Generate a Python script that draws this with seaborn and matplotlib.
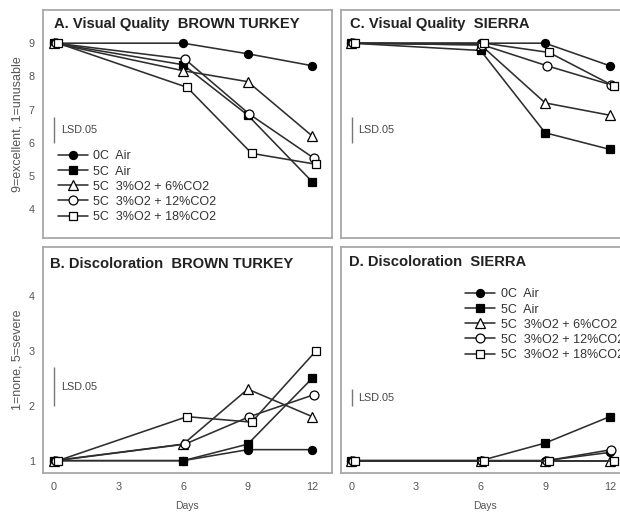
import matplotlib
matplotlib.use("Agg")
import matplotlib.pyplot as plt
import seaborn as sns

# ---------------- data ----------------
days = [0, 6, 9, 12]
treatments = ["0C  Air", "5C  Air", "5C  3%O2 + 6%CO2",
              "5C  3%O2 + 12%CO2", "5C  3%O2 + 18%CO2"]

# A. Visual quality, Brown Turkey
vq_bt_0c_air = [9.0, 9.0, 8.68, 8.32]
vq_bt_5c_air = [9.0, 8.35, 6.83, 4.82]
vq_bt_6co2 = [9.0, 8.17, 7.84, 6.20]
vq_bt_12co2 = [9.0, 8.52, 6.86, 5.53]
vq_bt_18co2 = [9.0, 7.67, 5.68, 5.35]

# C. Visual quality, Sierra
vq_si_0c_air = [9.0, 9.0, 9.0, 8.32]
vq_si_5c_air = [9.0, 8.78, 6.30, 5.80]
vq_si_6co2 = [9.0, 8.95, 7.20, 6.83]
vq_si_12co2 = [9.0, 8.95, 8.32, 7.74]
vq_si_18co2 = [9.0, 9.0, 8.72, 7.71]

# B. Discoloration, Brown Turkey
dc_bt_0c_air = [1.0, 1.0, 1.20, 1.20]
dc_bt_5c_air = [1.0, 1.0, 1.30, 2.50]
dc_bt_6co2 = [1.0, 1.30, 2.30, 1.80]
dc_bt_12co2 = [1.0, 1.30, 1.80, 2.20]
dc_bt_18co2 = [1.0, 1.80, 1.70, 3.00]

# D. Discoloration, Sierra
dc_si_0c_air = [1.0, 1.0, 1.0, 1.15]
dc_si_5c_air = [1.0, 1.0, 1.32, 1.80]
dc_si_6co2 = [1.0, 1.0, 1.0, 1.0]
dc_si_12co2 = [1.0, 1.0, 1.0, 1.20]
dc_si_18co2 = [1.0, 1.0, 1.0, 1.0]

panel_titles = ["A. Visual Quality  BROWN TURKEY", "C. Visual Quality  SIERRA",
                "B. Discoloration  BROWN TURKEY", "D. Discoloration  SIERRA"]
x_ticks = [0, 3, 6, 9, 12]
vq_ticks = [4, 5, 6, 7, 8, 9]
dc_ticks = [1, 2, 3, 4]
vq_lsd = [6.0, 6.78]
dc_bt_lsd = [2.0, 2.71]
dc_si_lsd = [2.0, 2.3]

# ---------------- style ----------------
sns.set_style("white")
plt.rcParams["font.family"] = ["Liberation Sans", "DejaVu Sans"]

marker_styles = [
    dict(marker="o", mfc="black", ms=5.8),
    dict(marker="s", mfc="black", ms=5.9),
    dict(marker="^", mfc="white", ms=6.6),
    dict(marker="o", mfc="white", ms=6.4),
    dict(marker="s", mfc="white", ms=6.3),
]
dodge = [0.0, 0.0, 0.0, 0.08, 0.18]
line_col = "#2e2e2e"
spine_col = "#a8a8a8"
tick_txt = "#555555"

W, H = 620, 513
fig = plt.figure(figsize=(W / 100, H / 100), dpi=100)


def add(l, t, r, b):
    return fig.add_axes([l / W, 1 - b / H, (r - l) / W, (b - t) / H])


axA = add(43.3, 10, 331.7, 238.3)
axC = add(340.7, 10, 629.1, 238.3)
axB = add(43.3, 246.7, 331.7, 473.3)
axD = add(340.7, 246.7, 629.1, 473.3)

panels = [
    (axA, [vq_bt_0c_air, vq_bt_5c_air, vq_bt_6co2, vq_bt_12co2, vq_bt_18co2]),
    (axC, [vq_si_0c_air, vq_si_5c_air, vq_si_6co2, vq_si_12co2, vq_si_18co2]),
    (axB, [dc_bt_0c_air, dc_bt_5c_air, dc_bt_6co2, dc_bt_12co2, dc_bt_18co2]),
    (axD, [dc_si_0c_air, dc_si_5c_air, dc_si_6co2, dc_si_12co2, dc_si_18co2]),
]

for (ax, series), title in zip(panels, panel_titles):
    for name, vals, st, dx in zip(treatments, series, marker_styles, dodge):
        sns.lineplot(x=[d + dx for d in days], y=vals, ax=ax, color=line_col,
                     linewidth=1.15, marker=st["marker"], markersize=st["ms"],
                     markerfacecolor=st["mfc"], markeredgecolor="black",
                     markeredgewidth=0.9, label=name, legend=False,
                     errorbar=None, sort=False)
    ax.set_xlim(-0.5, 12.9)
    ax.set_xticks(x_ticks)
    for s in ax.spines.values():
        s.set_color(spine_col)
        s.set_linewidth(1.3)
    ax.tick_params(direction="in", length=3, width=0.8, color="#777777",
                   labelsize=7.8, labelcolor=tick_txt, pad=6)
    ax.set_xlabel("")
    ax.set_ylabel("")

for ax in (axA, axC):
    ax.set_ylim(3.12, 10.0)
    ax.set_yticks(vq_ticks)
    ax.tick_params(labelbottom=False)
for ax in (axB, axD):
    ax.set_ylim(0.77, 4.89)
    ax.set_yticks(dc_ticks)
    ax.set_xlabel("Days", fontsize=7.5, color="#555555", labelpad=7)
for ax in (axC, axD):
    ax.tick_params(labelleft=False)

axA.set_ylabel("9=excellent, 1=unusable", fontsize=9, color="#555555", labelpad=4)
axB.set_ylabel("1=none, 5=severe", fontsize=9, color="#555555", labelpad=4)

# titles
title_pos = [(axA, 0.037, 0.939), (axC, 0.032, 0.939),
             (axB, 0.023, 0.924), (axD, 0.030, 0.934)]
for (ax, tx, ty), t in zip(title_pos, panel_titles):
    ax.text(tx, ty, t, transform=ax.transAxes, fontsize=10.6,
            fontweight="bold", color="#222222", va="center", ha="left")

# LSD bars
for ax, lsd in ((axA, vq_lsd), (axC, vq_lsd), (axB, dc_bt_lsd), (axD, dc_si_lsd)):
    ax.vlines(0.02, lsd[0], lsd[1], color="#777777", linewidth=1.0)
    ax.text(0.32, (lsd[0] + lsd[1]) / 2 - 0.02 * (lsd[1] - lsd[0]), "LSD.05",
            fontsize=7.8, color="#444444", va="center", ha="left")

# legends
for ax, anchor in ((axA, (0.05, 0.385)), (axD, (0.431, 0.816))):
    h, l = ax.get_legend_handles_labels()
    ax.legend(h, l, loc="upper left", bbox_to_anchor=anchor, frameon=False,
              fontsize=9, handlelength=2.4, handletextpad=0.45,
              labelspacing=0.25, borderpad=0, borderaxespad=0,
              labelcolor="#333333")

fig.savefig("out.png", dpi=100)
